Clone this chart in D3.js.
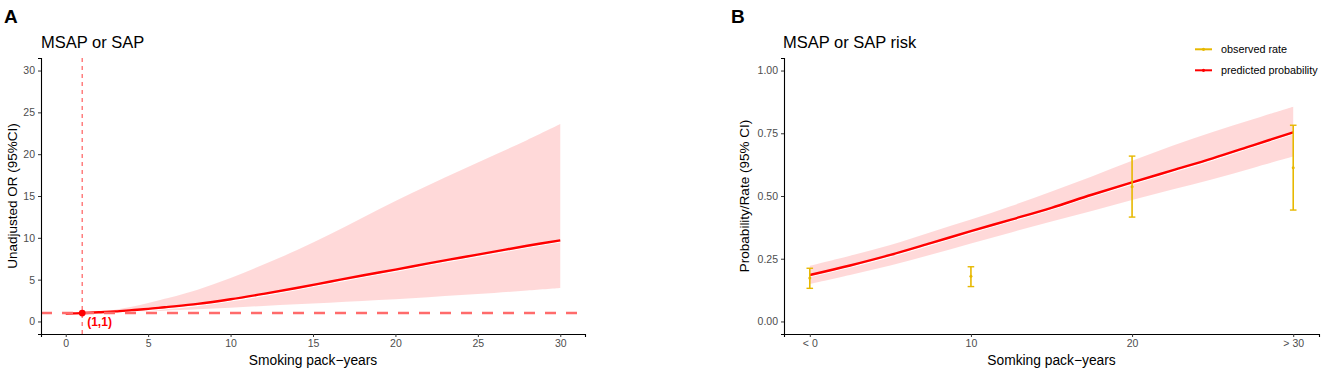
<!DOCTYPE html>
<html>
<head>
<meta charset="utf-8">
<script src="https://cdn.jsdelivr.net/npm/d3@7"></script>
<style>
  body { margin: 0; background: #fff; }
  svg text { font-family: "Liberation Sans", Arial, sans-serif; }
</style>
</head>
<body>
<div id="chart"></div>
<script>
// ---- data: panel A (unadjusted OR curve)
var orX    = [0, 1, 2, 3, 4, 5, 6, 8, 10, 12, 14, 16, 18, 20, 22, 24, 26, 28, 30];
var orFit  = [0.95, 1.0, 1.1, 1.2, 1.35, 1.5, 1.7, 2.1, 2.65, 3.3, 4.0, 4.75, 5.5, 6.2, 6.95, 7.65, 8.35, 9.05, 9.7];
var orLow  = [0.9, 1.0, 1.02, 1.06, 1.12, 1.2, 1.28, 1.45, 1.65, 1.85, 2.05, 2.25, 2.45, 2.65, 2.9, 3.15, 3.4, 3.7, 4.0];
var orHigh = [1.0, 1.0, 1.15, 1.4, 1.75, 2.2, 2.7, 3.8, 5.2, 6.8, 8.5, 10.4, 12.4, 14.4, 16.3, 18.1, 19.9, 21.7, 23.6];
var refPoint = [1, 1];
var xTicksA = [0, 5, 10, 15, 20, 25, 30];
var yTicksA = [0, 5, 10, 15, 20, 25, 30];

// ---- data: panel B (predicted probability + observed rate)
var probX    = [0, 2.5, 5, 7.5, 10, 12.5, 15, 17.5, 20, 22.5, 25, 27.5, 30];
var probFit  = [0.185, 0.223, 0.265, 0.312, 0.360, 0.406, 0.453, 0.505, 0.554, 0.602, 0.650, 0.702, 0.754];
var probLow  = [0.149, 0.185, 0.223, 0.266, 0.311, 0.355, 0.398, 0.440, 0.484, 0.526, 0.567, 0.612, 0.657];
var probHigh = [0.222, 0.262, 0.305, 0.356, 0.406, 0.460, 0.518, 0.578, 0.640, 0.700, 0.755, 0.806, 0.856];
var obsX    = [0, 10, 20, 30];
var obsRate = [0.173, 0.180, 0.537, 0.613];
var obsLow  = [0.132, 0.139, 0.416, 0.444];
var obsHigh = [0.212, 0.218, 0.659, 0.782];
var xTicksB = [0, 10, 20, 30];
var xTickLabelsB = ["< 0", "10", "20", "> 30"];
var yTicksB = [0, 0.25, 0.5, 0.75, 1];

var red = "#ff0000", gold = "#e7b800", bandCol = "#ff0000", dashCol = "#ff6b6b";

var svg = d3.select("#chart").append("svg")
    .attr("width", 1325)
    .attr("height", 372);

// common axis drawing
function drawAxes(x, y, xt, xl, yt, yfmt) {
    var gx = svg.append("g")
        .attr("transform", "translate(0," + y.range()[0] + ")")
        .call(d3.axisBottom(x).tickValues(xt).tickSizeOuter(0).tickSize(3).tickPadding(3)
            .tickFormat(function (d, i) { return xl ? xl[i] : d; }));
    var gy = svg.append("g")
        .attr("transform", "translate(" + x.range()[0] + ",0)")
        .call(d3.axisLeft(y).tickValues(yt).tickSizeOuter(0).tickSize(3).tickPadding(3).tickFormat(yfmt));
    [gx, gy].forEach(function (g) {
        g.select(".domain").attr("stroke", "#000").attr("stroke-width", 1.1);
        g.selectAll(".tick line").attr("stroke", "#333");
        g.selectAll(".tick text").attr("fill", "#4d4d4d").attr("font-size", "10.5px");
    });
}

// ================= Panel A =================
var xA = d3.scaleLinear().domain([-1.5, 31.5]).range([41, 585]);
var yA = d3.scaleLinear().domain([-1.5, 31.5]).range([334, 58]);

var idxA = d3.range(orX.length);
svg.append("path")
    .datum(idxA)
    .attr("fill", bandCol)
    .attr("fill-opacity", 0.15)
    .attr("d", d3.area().curve(d3.curveCatmullRom)
        .x(function (i) { return xA(orX[i]); })
        .y0(function (i) { return yA(orLow[i]); })
        .y1(function (i) { return yA(orHigh[i]); }));

var lineA = d3.line().curve(d3.curveCatmullRom)
    .x(function (i) { return xA(orX[i]); })
    .y(function (i) { return yA(orFit[i]); });
svg.append("path").datum(idxA).attr("fill", "none").attr("stroke", "#fff")
    .attr("stroke-width", 1.2).attr("transform", "translate(0,1.7)").attr("d", lineA);
svg.append("path").datum(idxA).attr("fill", "none").attr("stroke", red)
    .attr("stroke-width", 2.4).attr("d", lineA);

// reference lines
svg.append("line")
    .attr("x1", xA.range()[0]).attr("x2", xA.range()[1])
    .attr("y1", yA(refPoint[1])).attr("y2", yA(refPoint[1]))
    .attr("stroke", dashCol).attr("stroke-width", 2.5).attr("stroke-dasharray", "11,10");
svg.append("line")
    .attr("x1", xA(refPoint[0])).attr("x2", xA(refPoint[0]))
    .attr("y1", yA.range()[0]).attr("y2", yA.range()[1])
    .attr("stroke", dashCol).attr("stroke-width", 1.3).attr("stroke-dasharray", "4,4");

svg.append("circle")
    .attr("cx", xA(refPoint[0])).attr("cy", yA(refPoint[1])).attr("r", 3.4)
    .attr("fill", red);
svg.append("text")
    .attr("x", xA(refPoint[0]) + 5).attr("y", yA(refPoint[1]) + 12.5)
    .attr("fill", red).attr("font-size", "12px").attr("font-weight", "bold")
    .text("(" + refPoint[0] + "," + refPoint[1] + ")");

drawAxes(xA, yA, xTicksA, null, yTicksA, d3.format("d"));

svg.append("text").attr("x", 4).attr("y", 22.7)
    .attr("font-size", "19px").attr("font-weight", "bold").text("A");
svg.append("text").attr("x", 41).attr("y", 48.3)
    .attr("font-size", "16.5px").text("MSAP or SAP");
svg.append("text").attr("x", 313).attr("y", 365)
    .attr("text-anchor", "middle").attr("font-size", "13.8px").text("Smoking pack\u2212years");
svg.append("text").attr("transform", "translate(17,196) rotate(-90)")
    .attr("text-anchor", "middle").attr("font-size", "13.5px").text("Unadjusted OR (95%CI)");

// ================= Panel B =================
var xB = d3.scaleLinear().domain([-1.6, 31.6]).range([784, 1319]);
var yB = d3.scaleLinear().domain([-0.05, 1.05]).range([334, 58]);

var idxB = d3.range(probX.length);
svg.append("path")
    .datum(idxB)
    .attr("fill", bandCol)
    .attr("fill-opacity", 0.15)
    .attr("d", d3.area().curve(d3.curveCatmullRom)
        .x(function (i) { return xB(probX[i]); })
        .y0(function (i) { return yB(probLow[i]); })
        .y1(function (i) { return yB(probHigh[i]); }));

var lineB = d3.line().curve(d3.curveCatmullRom)
    .x(function (i) { return xB(probX[i]); })
    .y(function (i) { return yB(probFit[i]); });
svg.append("path").datum(idxB).attr("fill", "none").attr("stroke", "#fff")
    .attr("stroke-width", 1.2).attr("transform", "translate(0,1.7)").attr("d", lineB);
svg.append("path").datum(idxB).attr("fill", "none").attr("stroke", red)
    .attr("stroke-width", 2.4).attr("d", lineB);

// observed rate with error bars
var obs = svg.append("g").selectAll("g")
    .data(d3.range(obsX.length))
    .join("g")
    .attr("stroke", gold).attr("fill", gold);
obs.append("line")
    .attr("x1", function (i) { return xB(obsX[i]); })
    .attr("x2", function (i) { return xB(obsX[i]); })
    .attr("y1", function (i) { return yB(obsLow[i]); })
    .attr("y2", function (i) { return yB(obsHigh[i]); })
    .attr("stroke-width", 1.6);
obs.append("line")
    .attr("x1", function (i) { return xB(obsX[i]) - 3.3; })
    .attr("x2", function (i) { return xB(obsX[i]) + 3.3; })
    .attr("y1", function (i) { return yB(obsLow[i]); })
    .attr("y2", function (i) { return yB(obsLow[i]); })
    .attr("stroke-width", 1.4);
obs.append("line")
    .attr("x1", function (i) { return xB(obsX[i]) - 3.3; })
    .attr("x2", function (i) { return xB(obsX[i]) + 3.3; })
    .attr("y1", function (i) { return yB(obsHigh[i]); })
    .attr("y2", function (i) { return yB(obsHigh[i]); })
    .attr("stroke-width", 1.4);
obs.append("circle")
    .attr("cx", function (i) { return xB(obsX[i]); })
    .attr("cy", function (i) { return yB(obsRate[i]); })
    .attr("r", 1.5).attr("stroke", "none");

drawAxes(xB, yB, xTicksB, xTickLabelsB, yTicksB, d3.format(".2f"));

svg.append("text").attr("x", 731).attr("y", 22.7)
    .attr("font-size", "19px").attr("font-weight", "bold").text("B");
svg.append("text").attr("x", 783).attr("y", 48.3)
    .attr("font-size", "16.5px").text("MSAP or SAP risk");
svg.append("text").attr("x", 1051.5).attr("y", 365)
    .attr("text-anchor", "middle").attr("font-size", "13.8px").text("Somking pack\u2212years");
svg.append("text").attr("transform", "translate(749,196) rotate(-90)")
    .attr("text-anchor", "middle").attr("font-size", "13.5px").text("Probability/Rate (95% CI)");

// legend
var legend = [["observed rate", gold], ["predicted probability", red]];
legend.forEach(function (d, i) {
    var ly = 49.3 + i * 21;
    svg.append("line").attr("x1", 1195).attr("x2", 1212).attr("y1", ly).attr("y2", ly)
        .attr("stroke", d[1]).attr("stroke-width", 2);
    svg.append("circle").attr("cx", 1203.5).attr("cy", ly).attr("r", 1.6).attr("fill", d[1]);
    svg.append("text").attr("x", 1221).attr("y", ly + 3.7)
        .attr("font-size", "10.8px").text(d[0]);
});
</script>
</body>
</html>
